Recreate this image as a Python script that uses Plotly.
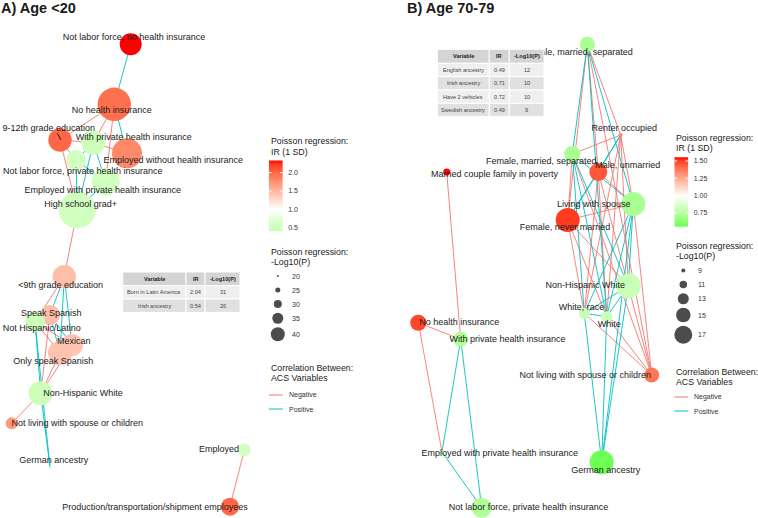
import numpy as np
import plotly.graph_objects as go

W, H = 758, 518
FONT = "Liberation Sans, Arial, sans-serif"

# ---------------- DATA: Panel A (Age <20) ----------------
A_nodes = ["Not labor force, no health insurance", "No health insurance", "9-12th grade education",
           "With private health insurance", "Employed without health insurance",
           "Not labor force, private health insurance", "Employed with private health insurance",
           "High school grad+", "<9th grade education", "Speak Spanish", "Not Hispanic/Latino",
           "Mexican", "Only speak Spanish", "Non-Hispanic White", "Not living with spouse or children",
           "German ancestry", "Employed", "Production/transportation/shipment employees"]
A_ir = [2.33, 1.95, 2.0, 0.55, 1.8, 0.6, 0.6, 0.58, 1.45, 1.45, 0.55, 1.4, 1.42, 0.55, 1.7, 0.5, 0.6, 2.0]
A_logp = [53.3, 72.3, 55.7, 56.7, 66.7, 50.0, 63.3, 78.3, 55.7, 50.0, 50.0, 53.3, 56.7, 56.7, 36.7, 21.7, 38.3, 46.7]
# network layout coordinates (from the layout algorithm)
A_x = [130.7, 114.3, 60.0, 93.3, 127.0, 76.0, 105.7, 77.3, 64.3, 50.0, 35.0, 72.0, 60.0, 40.7, 11.7, 50.0, 244.3, 230.0]
A_y = [44.3, 104.3, 140.0, 142.7, 153.3, 160.0, 181.7, 210.0, 276.7, 315.0, 321.7, 345.0, 353.0, 393.3, 423.3, 467.3, 450.0, 506.7]
A_pos_edges = [(0, 1), (1, 4), (3, 5), (3, 6), (3, 7), (5, 6), (5, 7), (6, 7), (8, 9), (8, 11), (8, 12),
               (9, 11), (9, 12), (11, 12), (10, 13), (10, 15), (13, 15)]
A_neg_edges = [(1, 2), (1, 3), (1, 6), (2, 3), (2, 7), (2, 5), (3, 4), (7, 8), (8, 10), (10, 11), (10, 12),
               (13, 9), (13, 11), (13, 12), (13, 14), (16, 17)]
A_tab_var = ["Born in Latin America", "Irish ancestry"]
A_tab_ir = ["2.04", "0.54"]
A_tab_p = ["31", "26"]
A_ir_breaks = [0.5, 1.0, 1.5, 2.0]
A_ir_range = [0.42, 2.33]
A_size_breaks = [20, 25, 30, 35, 40]

# ---------------- DATA: Panel B (Age 70-79) ----------------
B_nodes = ["Male, married, separated", "Renter occupied", "Female, married, separated", "Male, unmarried",
           "Married couple family in poverty", "Living with spouse", "Female, never married",
           "Non-Hispanic White", "White, race", "White", "No health insurance",
           "With private health insurance", "Not living with spouse or children",
           "Employed with private health insurance", "German ancestry", "Not labor force, private health insurance"]
B_ir = [0.7, 1.33, 0.7, 1.45, 1.55, 0.7, 1.5, 0.8, 0.8, 0.8, 1.48, 0.72, 1.38, 0.75, 0.55, 0.72]
B_logp = [15.3, 9.0, 15.9, 17.0, 10.7, 20.4, 20.4, 21.0, 13.0, 13.0, 15.9, 15.3, 15.3, 8.4, 20.4, 18.1]
B_x = [587.3, 620.7, 572.3, 598.3, 446.7, 633.3, 567.7, 628.3, 584.3, 606.7, 418.3, 460.7, 651.7, 442.0, 601.7, 481.7]
B_y = [44.3, 135.0, 154.0, 172.0, 172.0, 204.0, 220.0, 286.0, 313.3, 316.7, 322.7, 339.3, 375.0, 452.0, 462.3, 507.7]
B_pos_edges = [(0, 2), (0, 5), (0, 9), (2, 5), (2, 7), (2, 8), (2, 9), (5, 7), (5, 8), (5, 9), (5, 14),
               (7, 8), (7, 9), (7, 14), (8, 9), (8, 14), (9, 14), (3, 6), (1, 3), (1, 6),
               (11, 13), (11, 15), (13, 15)]
B_neg_edges = [(0, 1), (0, 3), (0, 6), (0, 12), (1, 2), (1, 5), (1, 7), (1, 8), (1, 9), (3, 5), (3, 7),
               (3, 8), (3, 9), (6, 5), (6, 7), (6, 8), (6, 9), (12, 5), (12, 7), (12, 8), (12, 9),
               (2, 6), (2, 12), (4, 11), (10, 11), (10, 13)]
B_tab_var = ["English ancestry", "Irish ancestry", "Have 2 vehicles", "Swedish ancestry"]
B_tab_ir = ["0.49", "0.71", "0.72", "0.49"]
B_tab_p = ["12", "10", "10", "9"]
B_ir_breaks = [0.75, 1.00, 1.25, 1.50]
B_ir_range = [0.548, 1.553]
B_size_breaks = [9, 11, 13, 15, 17]

TAB_HEADER = ["Variable", "IR", "-Log10(P)"]

# ---------------- label placement (repel offsets) ----------------
A_lab_dx = [3.3, -2.6, -11.3, 40.4, 46.3, 6.8, -2.9, 3.4, -3.6, 1.3, 6.7, 1.7, -6.7, 42.3, 65.6, 3.8, -25.3, -75]
A_lab_dy = [-6.6, 6.4, -11.7, -5.4, 7.4, 11.7, 9, -5, 9, -1.7, 6.6, -3.3, 8.7, 0, 0.7, -6.6, 0, 0.6]
B_lab_dx = [-4.6, 3.6, -31, 29.4, 47.8, -39.6, -2.7, -43, -2.8, 2.6, 41, 46.8, -66.4, 57.8, 4, 46.8]
B_lab_dy = [8.4, -6.7, 8, -6, 2.7, 0.7, 7.7, 0, -5.3, 8, 0.3, 0.7, 0.7, 2, 8.4, 0]

NEG_COL = "#F8766D"
POS_COL = "#00BFC4"


# ---------------- colour helpers (ggplot gradient2 in Lab) ----------------
def _lin(c):
    c = c / 255.0
    return c / 12.92 if c <= 0.04045 else ((c + 0.055) / 1.055) ** 2.4


def _delin(c):
    v = 12.92 * c if c <= 0.0031308 else 1.055 * (max(c, 0) ** (1 / 2.4)) - 0.055
    return int(max(0, min(255, round(v * 255))))


def rgb2lab(rgb):
    r, g, b = [_lin(v) for v in rgb]
    X = 0.4124 * r + 0.3576 * g + 0.1805 * b
    Y = 0.2126 * r + 0.7152 * g + 0.0722 * b
    Z = 0.0193 * r + 0.1192 * g + 0.9505 * b
    f = lambda t: t ** (1 / 3) if t > 0.008856 else 7.787 * t + 16 / 116
    fx, fy, fz = f(X / 0.95047), f(Y), f(Z / 1.08883)
    return (116 * fy - 16, 500 * (fx - fy), 200 * (fy - fz))


def lab2rgb(lab):
    L, a, b = lab
    fy = (L + 16) / 116
    fx = fy + a / 500
    fz = fy - b / 200
    finv = lambda t: t ** 3 if t ** 3 > 0.008856 else (t - 16 / 116) / 7.787
    X, Y, Z = 0.95047 * finv(fx), finv(fy), 1.08883 * finv(fz)
    r = 3.2406 * X - 1.5372 * Y - 0.4986 * Z
    g = -0.9689 * X + 1.8758 * Y + 0.0415 * Z
    bb = 0.0557 * X - 0.2040 * Y + 1.0570 * Z
    return tuple(_delin(v) for v in (r, g, bb))


LOW, MID, HIGH = rgb2lab((0, 255, 0)), rgb2lab((255, 255, 255)), rgb2lab((255, 0, 0))


def div_color(v, rng, mid=1.0):
    dev = max(abs(rng[0] - mid), abs(rng[1] - mid))
    t = (v - mid) / dev / 2 + 0.5
    t = min(1, max(0, t))
    if t <= 0.5:
        s = t / 0.5
        a, b = LOW, MID
    else:
        s = (t - 0.5) / 0.5
        a, b = MID, HIGH
    lab = tuple(a[i] + (b[i] - a[i]) * s for i in range(3))
    return "rgb(%d,%d,%d)" % lab2rgb(lab)


def radius_A(v):
    return 1 + 0.3 * (v - 20)


def radius_B(v):
    return 2 + 0.875 * (v - 9)


fig = go.Figure()


def add_network(xs, ys, names, ir, logp, pos, neg, rng, rfun, ldx, ldy):
    for edges, col in ((neg, NEG_COL), (pos, POS_COL)):
        ex, ey = [], []
        for a, b in edges:
            ex += [xs[a], xs[b], None]
            ey += [ys[a], ys[b], None]
        fig.add_trace(go.Scatter(x=ex, y=ey, mode="lines", line=dict(color=col, width=0.9),
                                 hoverinfo="skip", showlegend=False))
    fig.add_trace(go.Scatter(
        x=xs, y=ys, mode="markers",
        marker=dict(size=[2 * rfun(v) for v in logp], color=[div_color(v, rng) for v in ir],
                    line=dict(width=0), opacity=1),
        hoverinfo="skip", showlegend=False))
    fig.add_trace(go.Scatter(
        x=[x + d for x, d in zip(xs, ldx)], y=[y + d for y, d in zip(ys, ldy)],
        mode="text", text=names, textposition="middle center",
        textfont=dict(size=9, color="#1a1a1a", family=FONT),
        hoverinfo="skip", showlegend=False, cliponaxis=False))


add_network(A_x, A_y, A_nodes, A_ir, A_logp, A_pos_edges, A_neg_edges, A_ir_range, radius_A, A_lab_dx, A_lab_dy)
add_network(B_x, B_y, B_nodes, B_ir, B_logp, B_pos_edges, B_neg_edges, B_ir_range, radius_B, B_lab_dx, B_lab_dy)

# repel leader segment for "9-12th grade education"
fig.add_trace(go.Scatter(x=[57.3, 61.0], y=[133.3, 140.0], mode="lines", line=dict(color="black", width=0.8),
                         hoverinfo="skip", showlegend=False))

annotations = []
shapes = []


def txt(x, y, s, size, bold=False, color="#1a1a1a", anchor="left"):
    annotations.append(dict(x=x, y=y, xref="x", yref="y", text=("<b>%s</b>" % s) if bold else s,
                            showarrow=False, xanchor=anchor, yanchor="middle", borderpad=0,
                            font=dict(size=size, color=color, family=FONT)))


txt(0, 7.5, "A) Age <20", 14.5, bold=True)
txt(406, 7.5, "B) Age 70-79", 14.5, bold=True)


# ---------------- legends ----------------
def add_legends(lx, bar_top, bar_bot, ir_rng, ir_breaks, size_top, size_breaks, rfun, corr_top, neg_y, pos_y,
                axn, fmt):
    txt(lx, bar_top - 19.5, "Poisson regression:", 8.8)
    txt(lx, bar_top - 9, "IR (1 SD)", 8.8)
    vals = np.linspace(ir_rng[0], ir_rng[1], 80)
    cs = [[i / 79, div_color(v, ir_rng)] for i, v in enumerate(vals)]
    xa, ya = "x%d" % axn, "y%d" % axn
    fig.add_trace(go.Heatmap(z=[[v] for v in vals], x=[0], y=vals, colorscale=cs, zmin=ir_rng[0],
                             zmax=ir_rng[1], showscale=False, xaxis=xa, yaxis=ya, hoverinfo="skip"))
    tx, ty = [], []
    for b in ir_breaks:
        tx += [-0.5, -0.3, None, 0.3, 0.5, None]
        ty += [b, b, None, b, b, None]
    fig.add_trace(go.Scatter(x=tx, y=ty, mode="lines", line=dict(color="white", width=1), xaxis=xa, yaxis=ya,
                             hoverinfo="skip", showlegend=False))
    fig.layout["xaxis%d" % axn] = dict(domain=[(lx - 0.7) / W, (lx + 13.3) / W], range=[-0.5, 0.5], visible=False,
                                       anchor=ya, fixedrange=True)
    fig.layout["yaxis%d" % axn] = dict(domain=[1 - bar_bot / H, 1 - bar_top / H], range=list(ir_rng),
                                       anchor=xa, side="right", tickvals=ir_breaks,
                                       ticktext=[fmt % b for b in ir_breaks],
                                       ticks="outside", ticklen=3, tickcolor="rgba(0,0,0,0)",
                                       tickfont=dict(size=7, color="#333", family=FONT),
                                       showgrid=False, zeroline=False, showline=False, fixedrange=True)
    # size legend
    txt(lx, size_top, "Poisson regression:", 8.8)
    txt(lx, size_top + 10, "-Log10(P)", 8.8)
    yc = size_top + 17.5
    cy = []
    for b in size_breaks:
        h = max(14, 2 * rfun(b) + 3.5)
        cy.append(yc + h / 2)
        yc += h
    fig.add_trace(go.Scatter(x=[lx + 8.3] * len(size_breaks), y=cy, mode="markers",
                             marker=dict(size=[2 * rfun(b) for b in size_breaks], color="black", line=dict(width=0)),
                             hoverinfo="skip", showlegend=False, cliponaxis=False))
    for b, yy in zip(size_breaks, cy):
        txt(lx + 21.5, yy, str(b), 7, color="#333")
    # correlation legend
    txt(lx, corr_top, "Correlation Between:", 8.8)
    txt(lx, corr_top + 10, "ACS Variables", 8.8)
    for yy, col, lab in ((neg_y, NEG_COL, "Negative"), (pos_y, POS_COL, "Positive")):
        fig.add_trace(go.Scatter(x=[lx - 0.7, lx + 13.3], y=[yy, yy], mode="lines", line=dict(color=col, width=1),
                                 hoverinfo="skip", showlegend=False))
        txt(lx + 18, yy, lab, 7, color="#333")


add_legends(269.5, 160.5, 230.7, A_ir_range, A_ir_breaks, 251.5, A_size_breaks, radius_A, 368.3, 395, 409, 2,
            "%.1f")
add_legends(675, 157.3, 226.7, B_ir_range, B_ir_breaks, 246, B_size_breaks, radius_B, 371.5, 397, 411, 3,
            "%.2f")


# ---------------- tables (drawn as shapes + text) ----------------
def add_table(x0, y0, widths, headh, rowh, var, ir, p):
    cols = [var, ir, p]
    nrow = len(var)
    xs = [x0]
    for w in widths:
        xs.append(xs[-1] + w)
    for r in range(nrow + 1):
        top = y0 if r == 0 else y0 + headh + (r - 1) * rowh
        bot = top + (headh if r == 0 else rowh)
        fill = "#D4D4D4" if r == 0 else ("#EFEFEF" if r % 2 == 1 else "#E0E0E0")
        for c in range(3):
            shapes.append(dict(type="rect", xref="x", yref="y", x0=xs[c], x1=xs[c + 1], y0=top, y1=bot,
                               fillcolor=fill, line=dict(color="white", width=1), layer="above"))
            s = TAB_HEADER[c] if r == 0 else cols[c][r - 1]
            txt((xs[c] + xs[c + 1]) / 2, (top + bot) / 2, s, 5.6, bold=(r == 0),
                color="#222" if r == 0 else "#444", anchor="center")


add_table(122.7, 272.0, [63.3, 19, 35], 13.6, 13.4, A_tab_var, A_tab_ir, A_tab_p)
add_table(437.3, 49.3, [52, 20, 34.7], 14, 13.35, B_tab_var, B_tab_ir, B_tab_p)

fig.update_layout(
    width=W, height=H, margin=dict(l=0, r=0, t=0, b=0),
    paper_bgcolor="white", plot_bgcolor="white",
    xaxis=dict(range=[0, W], visible=False, domain=[0, 1], fixedrange=True),
    yaxis=dict(range=[H, 0], visible=False, domain=[0, 1], fixedrange=True),
    annotations=annotations, shapes=shapes, showlegend=False,
    font=dict(family=FONT),
)
fig.write_html("out.html", config={"displayModeBar": False},
               post_script="document.body.style.margin='0';document.body.style.padding='0';")
